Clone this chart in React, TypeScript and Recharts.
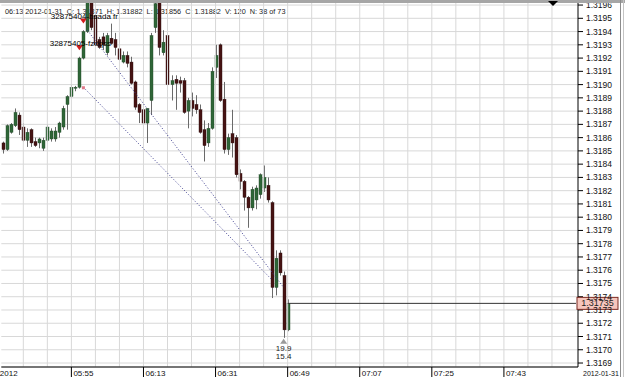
import React from 'react';
import { ComposedChart, Bar, XAxis, YAxis, CartesianGrid, ReferenceLine, ReferenceDot } from 'recharts';

const opens = [
  1.31856, 1.31851, 1.31864, 1.31869, 1.31877, 1.31868, 1.31858, 1.31866, 1.31857, 1.31856,
  1.31852, 1.31858, 1.31859, 1.31859, 1.31864, 1.31868, 1.31885, 1.31891, 1.31898, 1.31898,
  1.31920, 1.31940, 1.31968, 1.31952, 1.31934, 1.31936, 1.31924, 1.31935, 1.31934, 1.31927,
  1.31917, 1.31922, 1.31917, 1.31902, 1.31885, 1.31881, 1.31871, 1.31888, 1.31943, 1.31962,
  1.31924, 1.31937, 1.31900, 1.31904, 1.31903, 1.31903, 1.31880, 1.31888, 1.31885, 1.31881,
  1.31866, 1.31856, 1.31867, 1.31913, 1.31930, 1.31889, 1.31851, 1.31863, 1.31860, 1.31833,
  1.31827, 1.31815, 1.31807, 1.31813, 1.31817, 1.31822, 1.31824, 1.31811, 1.31747, 1.31773,
  1.31756, 1.31715,
];
const highs = [
  1.31857, 1.31870, 1.31871, 1.31882, 1.31879, 1.31871, 1.31867, 1.31867, 1.31860, 1.31860,
  1.31860, 1.31870, 1.31867, 1.31868, 1.31872, 1.31884, 1.31892, 1.31900, 1.31899, 1.31921,
  1.31941, 1.31971, 1.31971, 1.31955, 1.31936, 1.31939, 1.31939, 1.31946, 1.31939, 1.31939,
  1.31925, 1.31925, 1.31921, 1.31903, 1.31886, 1.31882, 1.31882, 1.31939, 1.31966, 1.31965,
  1.31941, 1.31939, 1.31907, 1.31907, 1.31906, 1.31905, 1.31890, 1.31894, 1.31892, 1.31885,
  1.31873, 1.31871, 1.31913, 1.31930, 1.31931, 1.31902, 1.31863, 1.31881, 1.31862, 1.31836,
  1.31828, 1.31816, 1.31823, 1.31824, 1.31833, 1.31839, 1.31830, 1.31812, 1.31775, 1.31775,
  1.31759, 1.31738,
];
const lows = [
  1.31848, 1.31850, 1.31863, 1.31868, 1.31862, 1.31857, 1.31853, 1.31853, 1.31853, 1.31852,
  1.31850, 1.31857, 1.31857, 1.31857, 1.31860, 1.31866, 1.31866, 1.31890, 1.31895, 1.31897,
  1.31919, 1.31939, 1.31941, 1.31929, 1.31927, 1.31926, 1.31922, 1.31930, 1.31922, 1.31918,
  1.31916, 1.31913, 1.31900, 1.31881, 1.31871, 1.31870, 1.31856, 1.31877, 1.31939, 1.31922,
  1.31922, 1.31896, 1.31888, 1.31881, 1.31894, 1.31878, 1.31867, 1.31876, 1.31878, 1.31863,
  1.31842, 1.31853, 1.31866, 1.31905, 1.31887, 1.31848, 1.31847, 1.31845, 1.31830, 1.31821,
  1.31805, 1.31792, 1.31805, 1.31806, 1.31814, 1.31819, 1.31811, 1.31739, 1.31741, 1.31756,
  1.31709, 1.31714,
];
const closes = [
  1.31851, 1.31869, 1.31870, 1.31879, 1.31866, 1.31858, 1.31864, 1.31856, 1.31854, 1.31859,
  1.31858, 1.31868, 1.31865, 1.31865, 1.31871, 1.31882, 1.31891, 1.31898, 1.31898, 1.31920,
  1.31940, 1.31965, 1.31943, 1.31930, 1.31928, 1.31930, 1.31937, 1.31931, 1.31928, 1.31919,
  1.31922, 1.31916, 1.31901, 1.31883, 1.31879, 1.31871, 1.31882, 1.31937, 1.31961, 1.31928,
  1.31932, 1.31900, 1.31903, 1.31901, 1.31901, 1.31879, 1.31888, 1.31882, 1.31881, 1.31864,
  1.31854, 1.31867, 1.31910, 1.31922, 1.31888, 1.31851, 1.31860, 1.31856, 1.31832, 1.31827,
  1.31815, 1.31807, 1.31821, 1.31822, 1.31832, 1.31830, 1.31813, 1.31747, 1.31769, 1.31758,
  1.31715, 1.31735,
];

const slotCount = 144;
const xTickIndex = [0, 17, 35, 53, 71, 89, 107, 125];
const xTickLabels = ['2012', '05:55', '06:13', '06:31', '06:49', '07:07', '07:25', '07:43'];
const gridIndex = [5, 11, 17, 23, 29, 35, 41, 47, 53, 59, 65, 71, 77, 83, 89, 95, 101, 107, 113, 119, 125, 131, 137];
const yTicks = [
  1.3169, 1.317, 1.3171, 1.3172, 1.3173, 1.3174, 1.3175, 1.3176, 1.3177, 1.3178,
  1.3179, 1.318, 1.3181, 1.3182, 1.3183, 1.3184, 1.3185, 1.3186, 1.3187, 1.3188,
  1.3189, 1.319, 1.3191, 1.3192, 1.3193, 1.3194, 1.3195, 1.3196,
];
const yDomain = [1.31687, 1.319623];
const lastPrice = 1.31735;
const lastPriceEndIdx = 143;
const lastCandleIdx = 71;
const headerText = '06:13 2012-01-31  O: 1.31871  H: 1.31882  L: 1.31856  C: 1.31882  V: 120  N: 38 of 73';
const dateLabel = '2012-01-31';

const orderMarkers = [
  { idx: 20, price: 1.31946, label: '32875404-bsada fr' },
  { idx: 19, price: 1.31926, label: '32875405-fzdqss' },
];
const tradeLines = [
  { from: 20, fromPrice: 1.31898, to: 67, toPrice: 1.31753 },
  { from: 21, fromPrice: 1.31941, to: 70, toPrice: 1.31747 },
];
const entryMarker = { idx: 20, price: 1.31898 };
const exitMarker = { idx: 70, price: 1.31709, texts: ['19.9', '15.4'] };

const FONT = '"Liberation Sans", Arial, sans-serif';

const data = Array.from({ length: slotCount }, (_, i) =>
  i < opens.length
    ? { i, open: opens[i], high: highs[i], low: lows[i], close: closes[i], range: [lows[i], highs[i]] }
    : { i }
);

const Candle = (props: any) => {
  const { x, y, width, height, payload } = props;
  if (!payload || payload.open == null) return null;
  const { open, close, high, low } = payload;
  const top = Math.min(y, y + height);
  const h = Math.abs(height);
  const span = high - low;
  const k = span > 0 ? h / span : 0;
  const yOf = (v: number) => top + (high - v) * k;
  const cx = Math.floor(x + width / 2) + 0.5;
  const bull = close >= open;
  const bTop = yOf(Math.max(open, close));
  const bBot = yOf(Math.min(open, close));
  return (
    <g>
      <line x1={cx} x2={cx} y1={top} y2={top + h} stroke="#6a6a6a" strokeWidth={1} />
      <rect
        x={Math.round(x)}
        y={bTop}
        width={width}
        height={Math.max(1, bBot - bTop)}
        fill={bull ? '#2f6638' : '#461313'}
        stroke={bull ? '#1f4526' : '#2a0b0b'}
        strokeWidth={0.4}
      />
    </g>
  );
};

const XTick = (props: any) => {
  const { x, y, payload } = props;
  const pos = xTickIndex.indexOf(payload.value);
  const label = xTickLabels[pos];
  if (pos === 0) {
    return (
      <text x={x - 3.5} y={y + 8.5} fontSize={8} fontFamily={FONT} fill="#111">
        {label}
      </text>
    );
  }
  return (
    <g>
      <line x1={x} x2={x} y1={y} y2={y + 10} stroke="#000" />
      <text x={x + 2} y={y + 8.5} fontSize={8} fontFamily={FONT} fill="#111">
        {label}
      </text>
    </g>
  );
};

const DownArrow = (props: any) => {
  const { cx, cy, label } = props;
  return (
    <g>
      <polygon points={`${cx - 3.5},${cy - 5} ${cx + 3.5},${cy - 5} ${cx},${cy}`} fill="#d21c1c" />
      <text x={cx + 1} y={cy - 4.5} textAnchor="middle" fontSize={8} fontFamily={FONT} fill="#000">
        {label}
      </text>
    </g>
  );
};

const EntryMark = (props: any) => {
  const { cx, cy } = props;
  return <rect x={cx - 1.5} y={cy - 1} width={3} height={3} fill="#e07a8a" />;
};

const ExitMark = (props: any) => {
  const { cx, cy } = props;
  return (
    <g>
      <polygon points={`${cx - 3.5},${cy + 6} ${cx + 3.5},${cy + 6} ${cx},${cy + 1}`} fill="#9a9a9a" />
      <text x={cx} y={cy + 13} textAnchor="middle" fontSize={8} fontFamily={FONT} fill="#222">
        {exitMarker.texts[0]}
      </text>
      <text x={cx} y={cy + 21} textAnchor="middle" fontSize={8} fontFamily={FONT} fill="#222">
        {exitMarker.texts[1]}
      </text>
    </g>
  );
};

const PriceTag = (props: any) => {
  const { cx, cy } = props;
  const x = cx + 1;
  return (
    <g>
      <rect x={x} y={cy - 6} width={41} height={12} fill="#f6c6bd" stroke="#7a2a22" strokeWidth={1} />
      <text x={x + 20.5} y={cy + 3} textAnchor="middle" fontSize={9} fontFamily={FONT} fill="#222">
        {lastPrice.toFixed(5)}
      </text>
    </g>
  );
};

const DateLabel = (props: any) => {
  const vb = props.viewBox || {};
  return (
    <text x={vb.x + vb.width + 5} y={vb.y + 8.5} fontSize={7} fontFamily={FONT} fill="#111">
      {dateLabel}
    </text>
  );
};

export default function App() {
  return (
    <div style={{ position: 'absolute', left: 0, top: 0, width: 625, height: 377, background: '#fff', overflow: 'hidden' }}>
      <svg width={625} height={377} style={{ position: 'absolute', left: 0, top: 0 }}>
        <text x={5} y={14} fontSize={7.3} fontFamily={FONT} fill="#222" style={{ whiteSpace: 'pre' }}>
          {headerText}
        </text>
      </svg>
      <div style={{ position: 'absolute', left: 0, top: 0 }}>
        <ComposedChart
          width={625}
          height={377}
          data={data}
          margin={{ top: 2, right: 0, bottom: 0, left: 1.3 }}
          barCategoryGap={0}
        >
          <CartesianGrid vertical={false} stroke="#d8d8d8" />
          {gridIndex.map((g) => (
            <ReferenceLine key={'g' + g} x={g} stroke="#d8d8d8" />
          ))}
          <XAxis
            dataKey="i"
            type="category"
            ticks={xTickIndex}
            interval={0}
            tick={<XTick />}
            tickLine={false}
            tickSize={0}
            tickMargin={0}
            height={10}
            axisLine={{ stroke: '#000' }}
            label={<DateLabel />}
          />
          <YAxis
            orientation="right"
            domain={yDomain}
            allowDataOverflow
            ticks={yTicks}
            interval={0}
            width={47}
            tickSize={5}
            tickMargin={3}
            tickFormatter={(v: number) => v.toFixed(4)}
            tick={{ fontSize: 8.5, fill: '#111', fontFamily: FONT }}
            axisLine={{ stroke: '#000' }}
            tickLine={{ stroke: '#000' }}
          />
          {tradeLines.map((t, k) => (
            <ReferenceLine
              key={'t' + k}
              segment={[{ x: t.from, y: t.fromPrice }, { x: t.to, y: t.toPrice }]}
              stroke="#3d3d8f"
              strokeDasharray="1 2"
            />
          ))}
          <Bar dataKey="range" barSize={3} shape={<Candle />} isAnimationActive={false} />
          <ReferenceLine
            segment={[{ x: lastCandleIdx, y: lastPrice }, { x: lastPriceEndIdx, y: lastPrice }]}
            stroke="#333"
          />
          <ReferenceDot x={entryMarker.idx} y={entryMarker.price} shape={<EntryMark />} />
          {orderMarkers.map((m, k) => (
            <ReferenceDot key={'m' + k} x={m.idx} y={m.price} shape={(p: any) => <DownArrow {...p} label={m.label} />} />
          ))}
          <ReferenceDot x={exitMarker.idx} y={exitMarker.price} shape={<ExitMark />} />
          <ReferenceDot x={lastPriceEndIdx} y={lastPrice} shape={<PriceTag />} />
        </ComposedChart>
      </div>
      <svg width={625} height={377} style={{ position: 'absolute', left: 0, top: 0, pointerEvents: 'none' }}>
        <rect x={0} y={0} width={625} height={3} fill="#a6a6a6" />
        <polygon points="548,1 558,1 553,6" fill="#000" />
        <line x1={620.5} x2={620.5} y1={0} y2={377} stroke="#8c8c8c" />
        <line x1={623.5} x2={623.5} y1={0} y2={377} stroke="#c4c4c4" />
      </svg>
    </div>
  );
}
